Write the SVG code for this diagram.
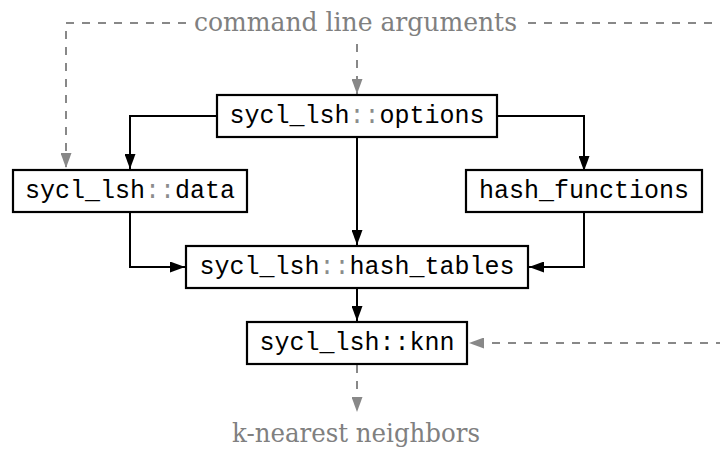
<svg xmlns="http://www.w3.org/2000/svg" width="720" height="452" viewBox="0 0 720 452">
<style>
.box{fill:#fff;stroke:#000;stroke-width:2.2}
.mono{font-family:"Liberation Mono","DejaVu Sans Mono",monospace;font-size:25px;fill:#000;text-anchor:middle}
.sep{fill:#8c8c8c}
.lbl{font-family:"DejaVu Serif","Liberation Serif",serif;font-size:26px;fill:#808080}
.solid{fill:none;stroke:#000;stroke-width:2}
.dash{fill:none;stroke:#888;stroke-width:2;stroke-dasharray:8 8}
</style>
<defs>
<marker id="ab" markerUnits="userSpaceOnUse" markerWidth="15" markerHeight="11" refX="15" refY="5.5" orient="auto"><path d="M0,0L15,5.5L0,11z" fill="#000"/></marker>
<marker id="ag" markerUnits="userSpaceOnUse" markerWidth="15" markerHeight="11" refX="15" refY="5.5" orient="auto"><path d="M0,0L15,5.5L0,11z" fill="#888"/></marker>
</defs>
<rect width="720" height="452" fill="#fff"/>
<g id="connectors">
<path class="dash" d="M186,23H66V168" marker-end="url(#ag)"/>
<path class="dash" d="M528,23H730V343H469" marker-end="url(#ag)"/>
<path class="dash" d="M357,44V94" marker-end="url(#ag)"/>
<path class="dash" d="M357,365V412" marker-end="url(#ag)"/>
<path class="solid" d="M217,116H130V169" marker-end="url(#ab)"/>
<path class="solid" d="M497,116H584V171" marker-end="url(#ab)"/>
<path class="solid" d="M357,137V245" marker-end="url(#ab)"/>
<path class="solid" d="M130,212V267H185" marker-end="url(#ab)"/>
<path class="solid" d="M584,212V267H529" marker-end="url(#ab)"/>
<path class="solid" d="M357,289V321" marker-end="url(#ab)"/>
</g>
<g id="label-args"><text class="lbl" x="194" y="31" textLength="323" lengthAdjust="spacingAndGlyphs">command line arguments</text></g>
<g id="label-knn-out"><text class="lbl" x="232" y="442" textLength="248" lengthAdjust="spacingAndGlyphs">k-nearest neighbors</text></g>
<g id="options"><rect class="box" x="217" y="95" width="280" height="42"/><text class="mono" x="357" y="123">sycl_lsh<tspan class="sep">::</tspan>options</text></g>
<g id="data"><rect class="box" x="13" y="170" width="234" height="42"/><text class="mono" x="130" y="198">sycl_lsh<tspan class="sep">::</tspan>data</text></g>
<g id="hash_functions"><rect class="box" x="466" y="170" width="236" height="42"/><text class="mono" x="584" y="198">hash_functions</text></g>
<g id="hash_tables"><rect class="box" x="186" y="246" width="342" height="42"/><text class="mono" x="357" y="274">sycl_lsh<tspan class="sep">::</tspan>hash_tables</text></g>
<g id="knn"><rect class="box" x="247" y="322" width="220" height="42"/><text class="mono" x="357" y="350">sycl_lsh::knn</text></g>
</svg>
